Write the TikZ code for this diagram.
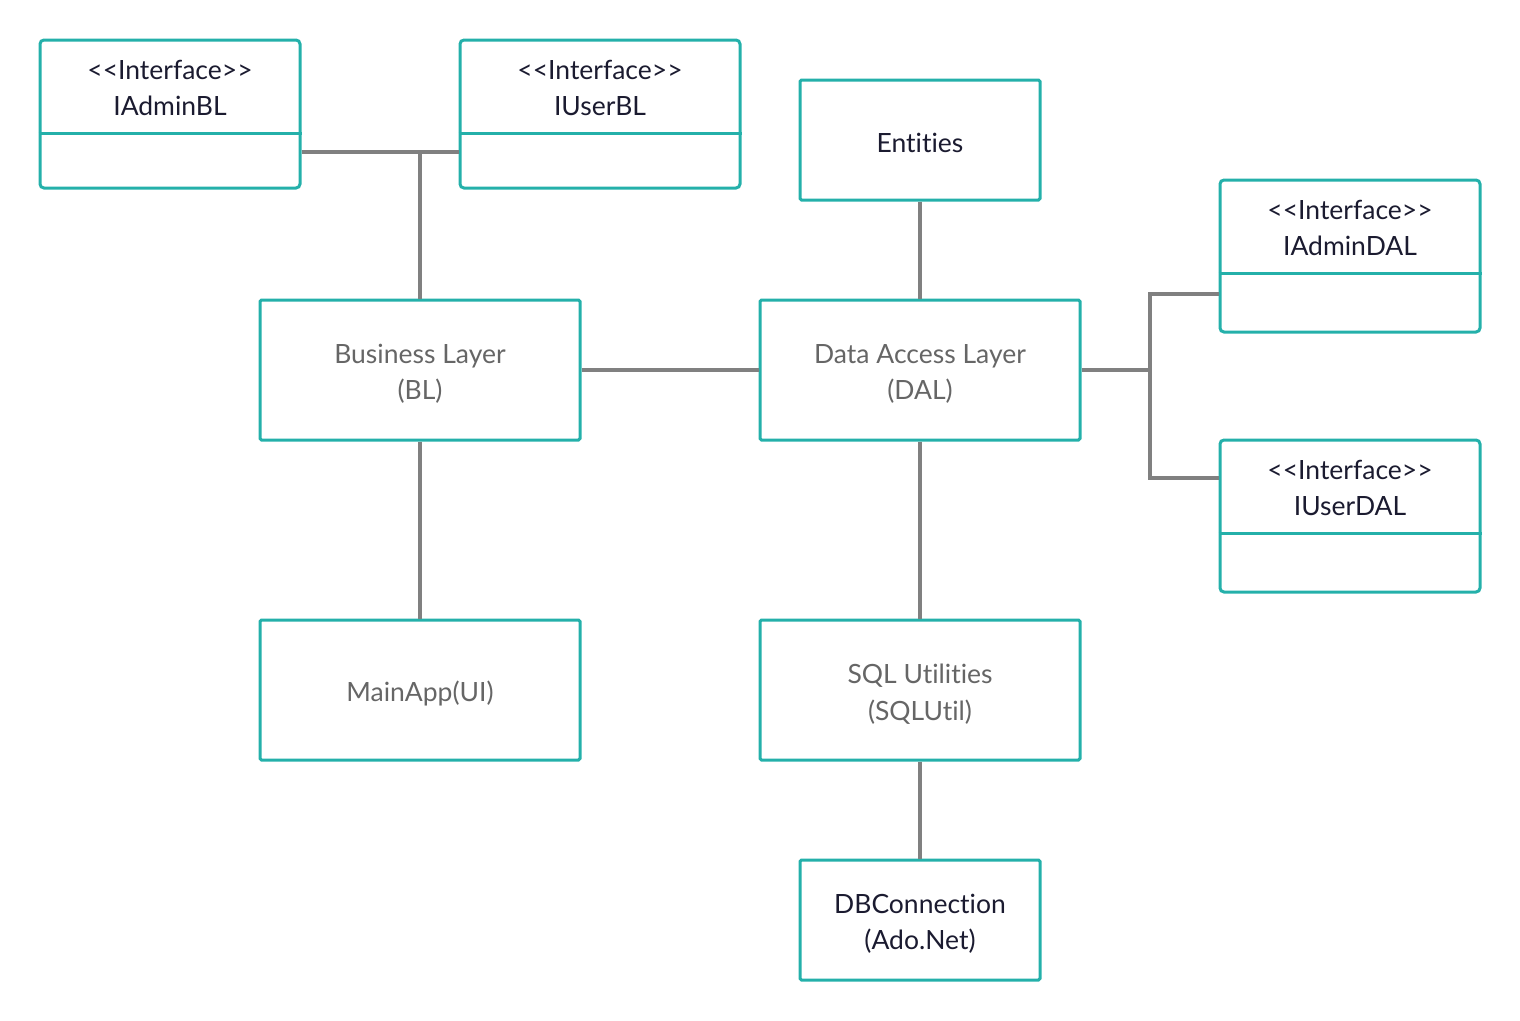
\documentclass[tikz,border=0pt]{standalone}
\usepackage{fontspec}
\setmainfont{Lato}[Ligatures={TeXOff,NoCommon}]
\definecolor{teal}{HTML}{24B0AA}
\definecolor{wire}{HTML}{808080}
\definecolor{dark}{HTML}{1B1B30}
\definecolor{soft}{HTML}{666666}
\begin{document}
\begin{tikzpicture}[x=1pt,y=-1pt,
  box/.style={draw=teal,line width=3pt,fill=white,rounded corners=1.5pt,inner sep=0pt},
  ibox/.style={box,rounded corners=4pt,minimum width=260pt},
  txt/.style={align=center,font=\fontsize{26.5}{36.5}\selectfont,inner sep=0pt},
  wirel/.style={draw=wire,line width=3.2pt},
  divl/.style={draw=teal,line width=3pt}]
\useasboundingbox (0,0) rectangle (1520,1020);

\coordinate (j1) at (420,152);
\coordinate (j2) at (1150,370);
\coordinate (j2a) at (1150,294);
\coordinate (j2b) at (1150,478);

% interface boxes
\node[ibox,minimum width=260pt,minimum height=148pt] (iadminbl) at (170,114) {};
\node[ibox,minimum width=280pt,minimum height=148pt] (iuserbl) at (600,114) {};
\node[ibox,minimum width=260pt,minimum height=152pt] (iadmindal) at (1350,256) {};
\node[ibox,minimum width=260pt,minimum height=152pt] (iuserdal) at (1350,516) {};

\draw[divl] (iadminbl.west |- 0,133) -- (iadminbl.east |- 0,133);
\draw[divl] (iuserbl.west |- 0,133) -- (iuserbl.east |- 0,133);
\draw[divl] (iadmindal.west |- 0,273) -- (iadmindal.east |- 0,273);
\draw[divl] (iuserdal.west |- 0,533) -- (iuserdal.east |- 0,533);

\node[txt,text=dark] (t1) at (170,88) {<<Interface>>\\IAdminBL};
\node[txt,text=dark] (t2) at (600,88) {<<Interface>>\\IUserBL};
\node[txt,text=dark] (t3) at (1350,228) {<<Interface>>\\IAdminDAL};
\node[txt,text=dark] (t4) at (1350,488) {<<Interface>>\\IUserDAL};

% main boxes
\node[box,minimum width=240pt,minimum height=120pt] (ent) at (920,140) {};
\node[txt,text=dark] (entt) at (920,143) {Entities};
\node[box,minimum width=320pt,minimum height=140pt] (bl) at (420,370) {};
\node[txt,text=soft] (blt) at (420,374) {Business Layer\\(BL)};
\node[box,minimum width=320pt,minimum height=140pt] (dal) at (920,370) {};
\node[txt,text=soft] (dalt) at (920,374) {Data Access Layer\\(DAL)};
\node[box,minimum width=320pt,minimum height=140pt] (ui) at (420,690) {};
\node[txt,text=soft] (uit) at (420,693) {MainApp(UI)};
\node[box,minimum width=320pt,minimum height=140pt] (sql) at (920,690) {};
\node[txt,text=soft] (sqlt) at (920,694) {SQL Utilities\\(SQLUtil)};
\node[box,minimum width=240pt,minimum height=120pt] (db) at (920,920) {};
\node[txt,text=dark] (dbt) at (920,924) {DBConnection\\(Ado.Net)};

% wires
\draw[wirel] (iadminbl.east |- j1) -- (iuserbl.west |- j1);
\draw[wirel] (j1) -- (bl.north);
\draw[wirel] (bl.east) -- (dal.west);
\draw[wirel] (ent.south) -- (dal.north);
\draw[wirel] (bl.south) -- (ui.north);
\draw[wirel] (dal.south) -- (sql.north);
\draw[wirel] (sql.south) -- (db.north);
\draw[wirel] (dal.east) -- (j2);
\draw[wirel] (iadmindal.west |- j2a) -- (j2a) -- (j2b) -- (iuserdal.west |- j2b);
\end{tikzpicture}
\end{document}
